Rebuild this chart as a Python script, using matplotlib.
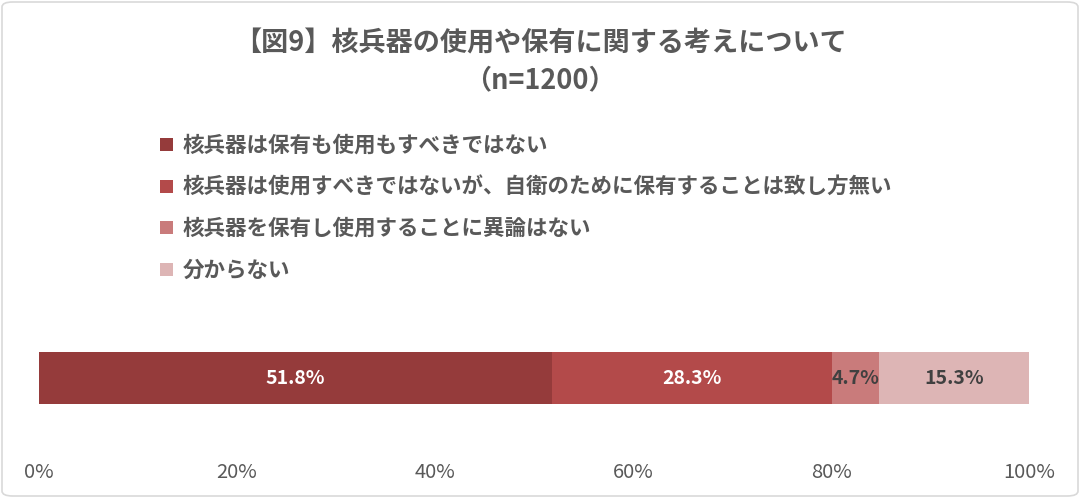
import matplotlib
matplotlib.use("Agg")
import matplotlib.pyplot as plt
from matplotlib.patches import FancyBboxPatch, Rectangle

plt.rcParams['font.family'] = ['Noto Sans CJK JP', 'DejaVu Sans']

# data
categories = [
    "核兵器は保有も使用もすべきではない",
    "核兵器は使用すべきではないが、自衛のために保有することは致し方無い",
    "核兵器を保有し使用することに異論はない",
    "分からない",
]
values = [51.8, 28.3, 4.7, 15.3]
colors = ["#953B3B", "#B34A4A", "#C97B7B", "#DDB5B5"]
label_colors = ["white", "white", "#404040", "#404040"]
xticks = [0, 20, 40, 60, 80, 100]

fig = plt.figure(figsize=(10.8, 4.98), dpi=100)
W, H = 1080, 498

# frame
fig.patches.append(FancyBboxPatch((2 / W, 2 / H), 1 - 4 / W, 1 - 4 / H,
                                  boxstyle="round,pad=0,rounding_size=0.01",
                                  transform=fig.transFigure, facecolor="white",
                                  edgecolor="#d9d9d9", linewidth=1.2, zorder=-1))

# title
fig.text(0.5, 1 - 44 / H, "【図9】核兵器の使用や保有に関する考えについて", ha="center", va="center",
         fontsize=19.5, fontweight="bold", color="#595959")
fig.text(0.5, 1 - 80 / H, "（n=1200）", ha="center", va="center",
         fontsize=19.5, fontweight="bold", color="#595959")

# legend
leg_y = [145, 187, 228, 270]
for cat, col, y in zip(categories, colors, leg_y):
    fig.patches.append(Rectangle((160 / W, 1 - (y + 6) / H), 13 / W, 13 / H,
                                 transform=fig.transFigure, facecolor=col, edgecolor="none"))
    fig.text(183 / W, 1 - y / H, cat, ha="left", va="center", fontsize=15.5,
             fontweight="bold", color="#595959")

# bar
ax = fig.add_axes([39 / W, 1 - 404 / H, 990 / W, 52 / H])
left = 0
for v, col, lc in zip(values, colors, label_colors):
    ax.barh(0, v, left=left, height=1.0, color=col, edgecolor="none")
    ax.text(left + v / 2, 0, f"{v}%", ha="center", va="center", fontsize=14,
            fontweight="bold", color=lc)
    left += v

ax.set_xlim(0, 100)
ax.set_ylim(-0.5, 0.5)
ax.set_xticks(xticks)
ax.set_xticklabels([f"{t}%" for t in xticks], fontsize=14.5, color="#595959")
ax.tick_params(axis="x", length=0, pad=42)
ax.set_yticks([])
for s in ax.spines.values():
    s.set_visible(False)

fig.savefig("out.png", dpi=100)
